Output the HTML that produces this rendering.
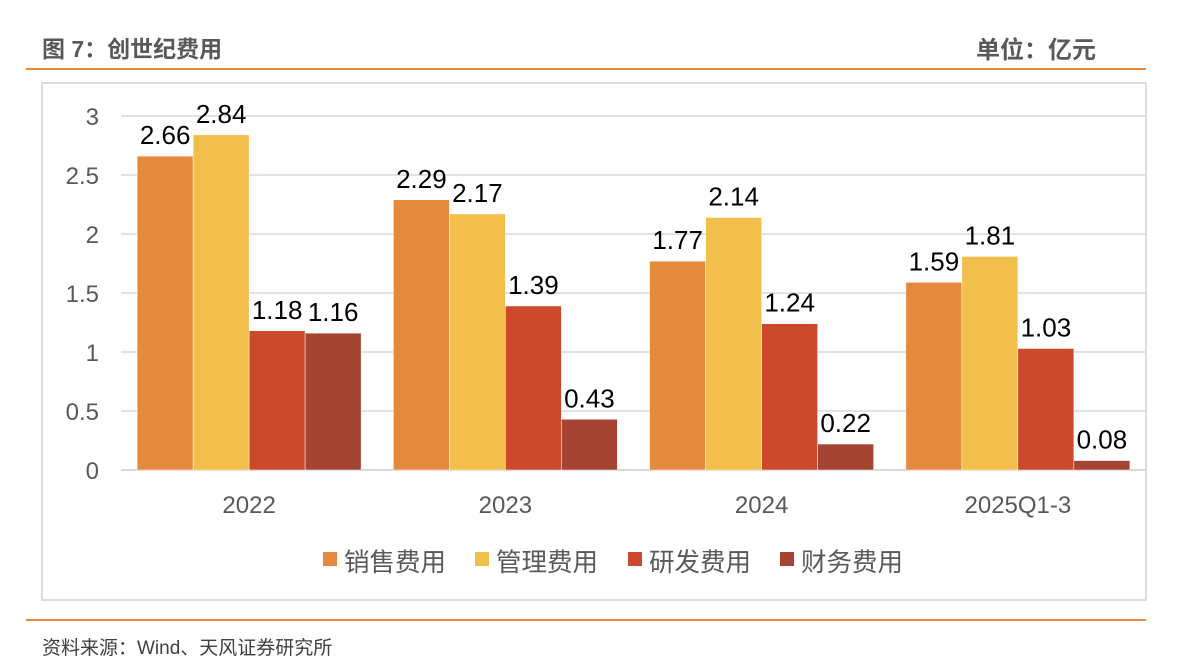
<!DOCTYPE html>
<html><head><meta charset="utf-8"><style>
body{margin:0;width:1196px;height:672px;background:#fff;font-family:"Liberation Sans","Noto Sans CJK SC",sans-serif;overflow:hidden;position:relative}
.t{position:absolute;color:#595959}
</style></head><body>
<div class="t" style="left:42px;top:30px;font-size:23px;font-weight:bold">图 7：创世纪费用</div>
<div class="t" style="left:976px;top:30px;font-size:24px;font-weight:bold">单位：亿元</div>
<div style="position:absolute;left:26px;top:68px;width:1120px;height:2px;background:#e8883c"></div>
<div style="position:absolute;left:41px;top:82px;width:1102px;height:515px;border:2px solid #dcdcdc"></div>
<div style="position:absolute;left:26px;top:619px;width:1120px;height:2px;background:#e8883c"></div>
<div class="t" style="left:42px;top:633px;font-size:19px;color:#404040">资料来源：Wind、天风证券研究所</div>
<svg id="c" width="1196" height="672" style="position:absolute;left:0;top:0"></svg>
<script>
const categories=["2022","2023","2024","2025Q1-3"];
const seriesNames=["销售费用","管理费用","研发费用","财务费用"];
const sales=[2.66,2.29,1.77,1.59];
const admin=[2.84,2.17,2.14,1.81];
const rnd=[1.18,1.39,1.24,1.03];
const fin=[1.16,0.43,0.22,0.08];
const yTicks=[0,0.5,1,1.5,2,2.5,3];
const yTickLabels=["0","0.5","1","1.5","2","2.5","3"];
const colors=["#e5893c","#f2be4c","#cc4a2b","#a64434"];
const series=[sales,admin,rnd,fin];
const svg=document.getElementById('c');const NS="http://www.w3.org/2000/svg";
const L=121,R=1146,Y0=470,PX=118;
const y=v=>Y0-v*PX;
const gw=(R-L)/categories.length,bw=56;
const x=(i,s)=>L+gw*i+(gw-bw*4)/2+bw*s;
function mk(t,a,txt){const e=document.createElementNS(NS,t);for(const k in a)e.setAttribute(k,a[k]);if(txt!=null)e.textContent=txt;svg.appendChild(e);return e;}
yTicks.forEach((v,i)=>{
 const g=mk('line',{x1:L,x2:R,y1:y(v),y2:y(v),stroke:'#d9d9d9','stroke-width':v===0?2:1.5});
 
 
 const t=mk('text',{x:99,y:y(v)+9,'text-anchor':'end','font-size':24,fill:'#595959'},yTickLabels[i]);
 
 
});
categories.forEach((c,i)=>{
 const t=mk('text',{x:L+gw*(i+0.5),y:513,'text-anchor':'middle','font-size':24,fill:'#595959'},c);
 
 
 series.forEach((s,j)=>{
  const r=mk('rect',{x:x(i,j),y:y(s[i]),width:bw,height:s[i]*PX,fill:colors[j],stroke:'#fff','stroke-width':0.5});
  
  
  const l=mk('text',{x:x(i,j)+bw/2,y:y(s[i])-12,'text-anchor':'middle','font-size':26,fill:'#000'},s[i].toFixed(2));
  
  
 });
});
const lx=[323,475,628,780];
seriesNames.forEach((n,j)=>{
 const r=mk('rect',{x:lx[j],y:552,width:14,height:14,fill:colors[j]});
 
 
 const t=mk('text',{x:lx[j]+21,y:571,'font-size':25.5,fill:'#595959'},n);
 
 
});
</script>
</body></html>
